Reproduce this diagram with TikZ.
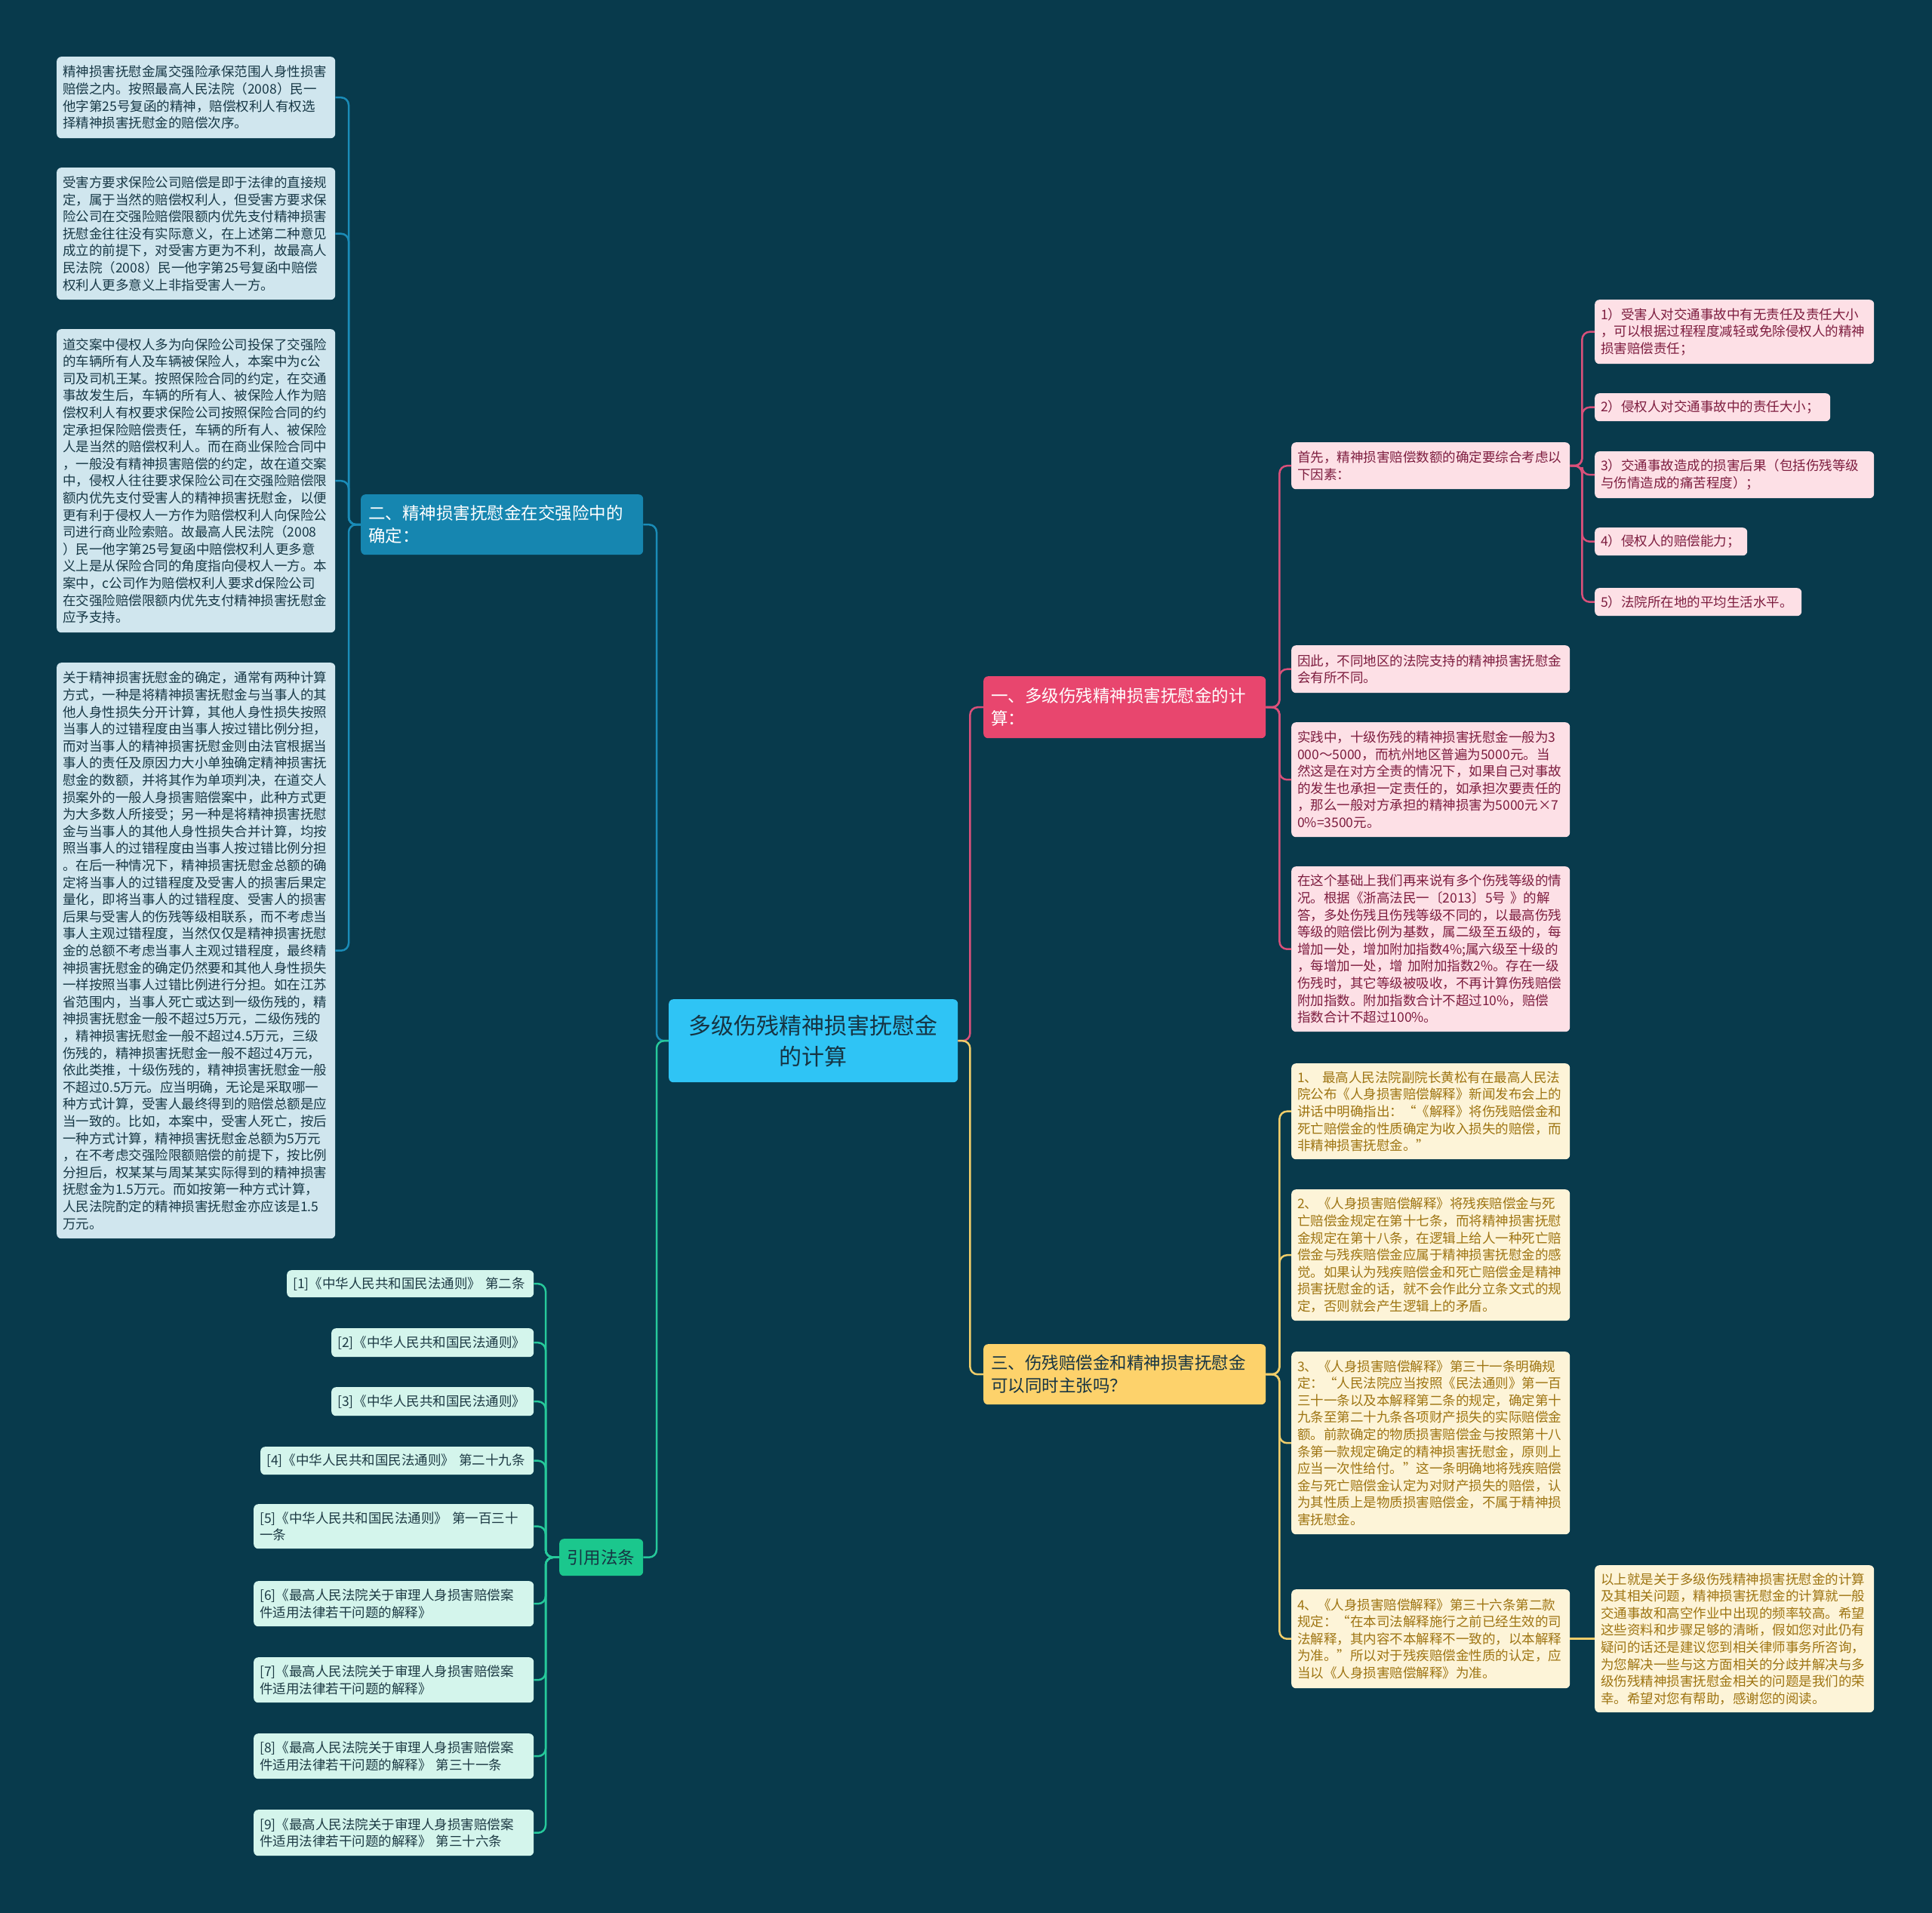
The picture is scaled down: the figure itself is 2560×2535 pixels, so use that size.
\documentclass[tikz,border=0pt]{standalone}
\usepackage{fontspec}
\setmainfont{Noto Sans CJK SC}
\definecolor{bg}{HTML}{083A4C}
\definecolor{cenF}{HTML}{2FC4F5}
\definecolor{cenT}{HTML}{163443}
\definecolor{b1F}{HTML}{E8466E}
\definecolor{b2F}{HTML}{1686B0}
\definecolor{b3F}{HTML}{FDD26B}
\definecolor{b4F}{HTML}{1BC78D}
\definecolor{pinkF}{HTML}{FDE0E6}
\definecolor{pinkT}{HTML}{7D1D3F}
\definecolor{bluF}{HTML}{D0E6EE}
\definecolor{bluT}{HTML}{173846}
\definecolor{yelF}{HTML}{FDF4D8}
\definecolor{yelT}{HTML}{9E7412}
\definecolor{grnF}{HTML}{D4F5EC}
\definecolor{grnT}{HTML}{1D3A44}
\definecolor{pinkL}{HTML}{D9507A}
\definecolor{yelL}{HTML}{F0CD6A}
\definecolor{bluL}{HTML}{1A8CB8}
\definecolor{grnL}{HTML}{26C99B}
\tikzset{
  bx/.style={rounded corners=6pt, inner xsep=8pt, inner ysep=0pt, align=left, anchor=north west,
    font=\fontsize{17.5pt}{22.6pt}\selectfont},
  pinkbox/.style={bx, fill=pinkF, text=pinkT},
  blubox/.style={bx, fill=bluF, text=bluT},
  yelbox/.style={bx, fill=yelF, text=yelT},
  grnbox/.style={bx, fill=grnF, text=grnT},
  branch/.style={rounded corners=6pt, inner xsep=10pt, inner ysep=0pt, align=left, anchor=north west,
    font=\fontsize{22.5pt}{30pt}\selectfont},
  conn/.style={line width=2.5pt, rounded corners=10pt},
}
\begin{document}
\begin{tikzpicture}[x=1pt,y=-1pt]
\fill[bg] (0,0) rectangle (2560,2535);
\useasboundingbox (0,0) rectangle (2560,2535);

% center
\node[rounded corners=6pt, fill=cenF, text=cenT, align=center, anchor=north west,
  minimum width=383pt, minimum height=110pt, inner sep=0pt,
  font=\fontsize{30pt}{41pt}\selectfont] (c) at (886,1324) {多级伤残精神损害抚慰金\\的计算};

% branches
\node[branch, fill=b1F, text=white, minimum width=374pt, text width=354pt, minimum height=82pt] (b1) at (1303,896) {一、多级伤残精神损害抚慰金的计\\算：};
\node[branch, fill=b2F, text=white, minimum width=374pt, text width=354pt, minimum height=80pt] (b2) at (478,655) {二、精神损害抚慰金在交强险中的\\确定：};
\node[branch, fill=b3F, text=cenT, minimum width=374pt, text width=354pt, minimum height=80pt] (b3) at (1303,1781) {三、伤残赔偿金和精神损害抚慰金\\可以同时主张吗？};
\node[branch, fill=b4F, text=cenT, minimum width=111pt, text width=91pt, minimum height=49pt] (b4) at (741,2039) {引用法条};

% pink children
\node[pinkbox, minimum width=369pt, text width=353pt, minimum height=62pt] (pa) at (1711,586) {首先，精神损害赔偿数额的确定要综合考虑以\\下因素：};
\node[pinkbox, minimum width=369pt, text width=353pt, minimum height=63pt] (pb) at (1711,855) {因此，不同地区的法院支持的精神损害抚慰金\\会有所不同。};
\node[pinkbox, minimum width=369pt, text width=353pt, minimum height=152pt] (pc) at (1711,957) {实践中，十级伤残的精神损害抚慰金一般为3\\
000～5000，而杭州地区普遍为5000元。当\\
然这是在对方全责的情况下，如果自己对事故\\
的发生也承担一定责任的，如承担次要责任的\\
，那么一般对方承担的精神损害为5000元×7\\
0\%=3500元。};
\node[pinkbox, minimum width=369pt, text width=353pt, minimum height=219pt] (pd) at (1711,1148) {在这个基础上我们再来说有多个伤残等级的情\\
况。根据《浙高法民一〔2013〕5号 》的解\\
答，多处伤残且伤残等级不同的，以最高伤残\\
等级的赔偿比例为基数，属二级至五级的，每\\
增加一处，增加附加指数4\%;属六级至十级的\\
，每增加一处，增 加附加指数2\%。存在一级\\
伤残时，其它等级被吸收，不再计算伤残赔偿\\
附加指数。附加指数合计不超过10\%，赔偿\\
指数合计不超过100\%。};

% pink level 3
\node[pinkbox, minimum width=370pt, text width=354pt, minimum height=85pt] (p1) at (2113,397) {1）受害人对交通事故中有无责任及责任大小\\，可以根据过程程度减轻或免除侵权人的精神\\损害赔偿责任；};
\node[pinkbox, minimum width=312pt, text width=296pt, minimum height=37pt] (p2) at (2113,521) {2）侵权人对交通事故中的责任大小；};
\node[pinkbox, minimum width=370pt, text width=354pt, minimum height=62pt] (p3) at (2113,598) {3）交通事故造成的损害后果（包括伤残等级\\与伤情造成的痛苦程度）；};
\node[pinkbox, minimum width=202pt, text width=186pt, minimum height=37pt] (p4) at (2113,699) {4）侵权人的赔偿能力；};
\node[pinkbox, minimum width=274pt, text width=258pt, minimum height=37pt] (p5) at (2113,779) {5）法院所在地的平均生活水平。};

% yellow children
\node[yelbox, minimum width=369pt, text width=353pt, minimum height=127pt] (y1) at (1711,1409) {1、 最高人民法院副院长黄松有在最高人民法\\
院公布《人身损害赔偿解释》新闻发布会上的\\
讲话中明确指出：“《解释》将伤残赔偿金和\\
死亡赔偿金的性质确定为收入损失的赔偿，而\\
非精神损害抚慰金。”};
\node[yelbox, minimum width=369pt, text width=353pt, minimum height=174pt] (y2) at (1711,1576) {2、《人身损害赔偿解释》将残疾赔偿金与死\\
亡赔偿金规定在第十七条，而将精神损害抚慰\\
金规定在第十八条，在逻辑上给人一种死亡赔\\
偿金与残疾赔偿金应属于精神损害抚慰金的感\\
觉。如果认为残疾赔偿金和死亡赔偿金是精神\\
损害抚慰金的话，就不会作此分立条文式的规\\
定，否则就会产生逻辑上的矛盾。};
\node[yelbox, minimum width=369pt, text width=353pt, minimum height=242pt] (y3) at (1711,1791) {3、《人身损害赔偿解释》第三十一条明确规\\
定：“人民法院应当按照《民法通则》第一百\\
三十一条以及本解释第二条的规定，确定第十\\
九条至第二十九条各项财产损失的实际赔偿金\\
额。前款确定的物质损害赔偿金与按照第十八\\
条第一款规定确定的精神损害抚慰金，原则上\\
应当一次性给付。”这一条明确地将残疾赔偿\\
金与死亡赔偿金认定为对财产损失的赔偿，认\\
为其性质上是物质损害赔偿金，不属于精神损\\
害抚慰金。};
\node[yelbox, minimum width=369pt, text width=353pt, minimum height=131pt] (y4) at (1711,2106) {4、《人身损害赔偿解释》第三十六条第二款\\
规定：“在本司法解释施行之前已经生效的司\\
法解释，其内容不本解释不一致的，以本解释\\
为准。”所以对于残疾赔偿金性质的认定，应\\
当以《人身损害赔偿解释》为准。};
\node[yelbox, minimum width=370pt, text width=354pt, minimum height=195pt] (y5) at (2113,2074) {以上就是关于多级伤残精神损害抚慰金的计算\\
及其相关问题，精神损害抚慰金的计算就一般\\
交通事故和高空作业中出现的频率较高。希望\\
这些资料和步骤足够的清晰，假如您对此仍有\\
疑问的话还是建议您到相关律师事务所咨询，\\
为您解决一些与这方面相关的分歧并解决与多\\
级伤残精神损害抚慰金相关的问题是我们的荣\\
幸。希望对您有帮助，感谢您的阅读。};

% blue children
\node[blubox, minimum width=369pt, text width=353pt, minimum height=108pt] (l1) at (75,75) {精神损害抚慰金属交强险承保范围人身性损害\\
赔偿之内。按照最高人民法院（2008）民一\\
他字第25号复函的精神，赔偿权利人有权选\\
择精神损害抚慰金的赔偿次序。};
\node[blubox, minimum width=369pt, text width=353pt, minimum height=175pt] (l2) at (75,222) {受害方要求保险公司赔偿是即于法律的直接规\\
定，属于当然的赔偿权利人，但受害方要求保\\
险公司在交强险赔偿限额内优先支付精神损害\\
抚慰金往往没有实际意义，在上述第二种意见\\
成立的前提下，对受害方更为不利，故最高人\\
民法院（2008）民一他字第25号复函中赔偿\\
权利人更多意义上非指受害人一方。};
\node[blubox, minimum width=369pt, text width=353pt, minimum height=402pt] (l3) at (75,436) {道交案中侵权人多为向保险公司投保了交强险\\
的车辆所有人及车辆被保险人，本案中为c公\\
司及司机王某。按照保险合同的约定，在交通\\
事故发生后，车辆的所有人、被保险人作为赔\\
偿权利人有权要求保险公司按照保险合同的约\\
定承担保险赔偿责任，车辆的所有人、被保险\\
人是当然的赔偿权利人。而在商业保险合同中\\
，一般没有精神损害赔偿的约定，故在道交案\\
中，侵权人往往要求保险公司在交强险赔偿限\\
额内优先支付受害人的精神损害抚慰金，以便\\
更有利于侵权人一方作为赔偿权利人向保险公\\
司进行商业险索赔。故最高人民法院（2008\\
）民一他字第25号复函中赔偿权利人更多意\\
义上是从保险合同的角度指向侵权人一方。本\\
案中，c公司作为赔偿权利人要求d保险公司\\
在交强险赔偿限额内优先支付精神损害抚慰金\\
应予支持。};
\node[blubox, minimum width=369pt, text width=353pt, minimum height=763pt] (l4) at (75,878) {关于精神损害抚慰金的确定，通常有两种计算\\
方式，一种是将精神损害抚慰金与当事人的其\\
他人身性损失分开计算，其他人身性损失按照\\
当事人的过错程度由当事人按过错比例分担，\\
而对当事人的精神损害抚慰金则由法官根据当\\
事人的责任及原因力大小单独确定精神损害抚\\
慰金的数额，并将其作为单项判决，在道交人\\
损案外的一般人身损害赔偿案中，此种方式更\\
为大多数人所接受；另一种是将精神损害抚慰\\
金与当事人的其他人身性损失合并计算，均按\\
照当事人的过错程度由当事人按过错比例分担\\
。在后一种情况下，精神损害抚慰金总额的确\\
定将当事人的过错程度及受害人的损害后果定\\
量化，即将当事人的过错程度、受害人的损害\\
后果与受害人的伤残等级相联系，而不考虑当\\
事人主观过错程度，当然仅仅是精神损害抚慰\\
金的总额不考虑当事人主观过错程度，最终精\\
神损害抚慰金的确定仍然要和其他人身性损失\\
一样按照当事人过错比例进行分担。如在江苏\\
省范围内，当事人死亡或达到一级伤残的，精\\
神损害抚慰金一般不超过5万元，二级伤残的\\
，精神损害抚慰金一般不超过4.5万元，三级\\
伤残的，精神损害抚慰金一般不超过4万元，\\
依此类推，十级伤残的，精神损害抚慰金一般\\
不超过0.5万元。应当明确，无论是采取哪一\\
种方式计算，受害人最终得到的赔偿总额是应\\
当一致的。比如，本案中，受害人死亡，按后\\
一种方式计算，精神损害抚慰金总额为5万元\\
，在不考虑交强险限额赔偿的前提下，按比例\\
分担后，权某某与周某某实际得到的精神损害\\
抚慰金为1.5万元。而如按第一种方式计算，\\
人民法院酌定的精神损害抚慰金亦应该是1.5\\
万元。};

% green children
\node[grnbox, minimum width=327pt, text width=311pt, minimum height=36pt] (g1) at (380,1683) {[1]《中华人民共和国民法通则》 第二条};
\node[grnbox, minimum width=268pt, text width=252pt, minimum height=38pt] (g2) at (439,1760) {[2]《中华人民共和国民法通则》};
\node[grnbox, minimum width=268pt, text width=252pt, minimum height=38pt] (g3) at (439,1838) {[3]《中华人民共和国民法通则》};
\node[grnbox, minimum width=362pt, text width=346pt, minimum height=37pt] (g4) at (345,1917) {[4]《中华人民共和国民法通则》 第二十九条};
\node[grnbox, minimum width=371pt, text width=355pt, minimum height=59pt] (g5) at (336,1993) {[5]《中华人民共和国民法通则》 第一百三十\\一条};
\node[grnbox, minimum width=371pt, text width=355pt, minimum height=60pt] (g6) at (336,2095) {[6]《最高人民法院关于审理人身损害赔偿案\\件适用法律若干问题的解释》};
\node[grnbox, minimum width=371pt, text width=355pt, minimum height=60pt] (g7) at (336,2196) {[7]《最高人民法院关于审理人身损害赔偿案\\件适用法律若干问题的解释》};
\node[grnbox, minimum width=371pt, text width=355pt, minimum height=60pt] (g8) at (336,2297) {[8]《最高人民法院关于审理人身损害赔偿案\\件适用法律若干问题的解释》 第三十一条};
\node[grnbox, minimum width=371pt, text width=355pt, minimum height=61pt] (g9) at (336,2398) {[9]《最高人民法院关于审理人身损害赔偿案\\件适用法律若干问题的解释》 第三十六条};

% connectors
\draw[conn, pinkL] (c.east) -- ++(16,0) |- (b1.west);
\draw[conn, yelL] (c.east) -- ++(16,0) |- (b3.west);
\draw[conn, bluL] (c.west) -- ++(-16,0) |- (b2.east);
\draw[conn, grnL] (c.west) -- ++(-16,0) |- (b4.east);
\foreach \n in {pa,pb,pc,pd} \draw[conn, pinkL] (b1.east) -- ++(18,0) |- (\n.west);
\foreach \n in {1,...,5} \draw[conn, pinkL] (pa.east) -- ++(16,0) |- (p\n.west);
\foreach \n in {1,...,4} \draw[conn, yelL] (b3.east) -- ++(18,0) |- (y\n.west);
\draw[conn, yelL] (y4.east) -- (y5.west);
\foreach \n in {1,...,4} \draw[conn, bluL] (b2.west) -- ++(-16,0) |- (l\n.east);
\foreach \n in {1,...,9} \draw[conn, grnL] (b4.west) -- ++(-18,0) |- (g\n.east);
\end{tikzpicture}
\end{document}
